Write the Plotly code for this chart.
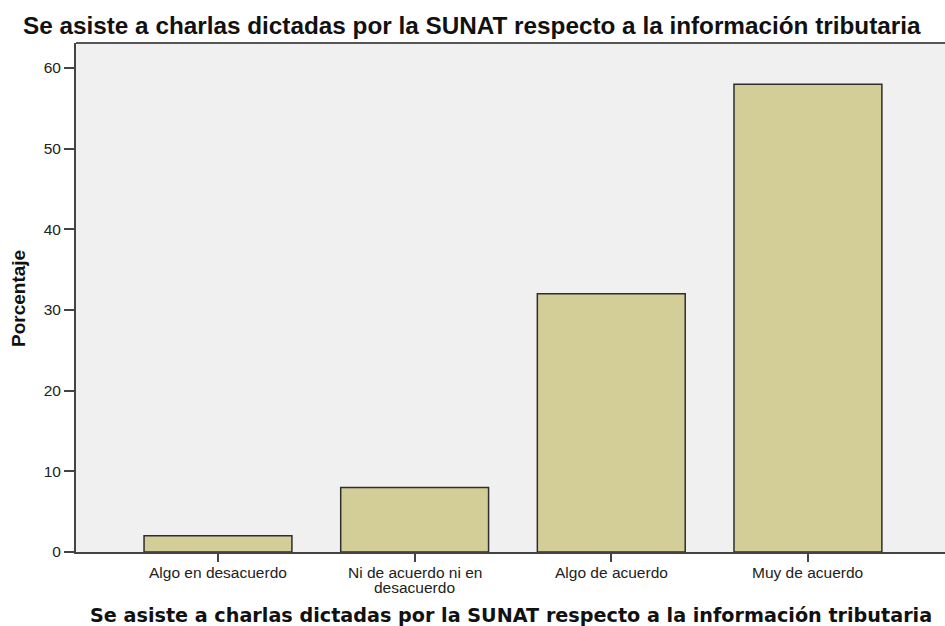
import plotly.graph_objects as go

categories = ["Algo en desacuerdo", "Ni de acuerdo ni en<br>desacuerdo", "Algo de acuerdo", "Muy de acuerdo"]
values = [2, 8, 32, 58]
y_ticks = [0, 10, 20, 30, 40, 50, 60]

title_text = "Se asiste a charlas dictadas por la SUNAT respecto a la información tributaria"
x_title = "Se asiste a charlas dictadas por la SUNAT respecto a la información tributaria"
y_title = "Porcentaje"

fig = go.Figure(go.Bar(
    x=list(range(len(categories))),
    y=values,
    width=0.752,
    marker=dict(color="#d3ce98", line=dict(color="#2e2e2e", width=1.5)),
    hoverinfo="skip",
))

# category labels as annotations (tighter line spacing than plotly tick labels)
label_annotations = []
for i, cat in enumerate(categories):
    for j, line in enumerate(cat.split("<br>")):
        label_annotations.append(dict(
            text=line, xref="x", yref="paper", x=i, y=0,
            xanchor="center", yanchor="middle", yshift=-(20 + 15 * j),
            showarrow=False,
            font=dict(family="Liberation Sans, Arial", size=15.5, color="#222"),
        ))

fig.update_layout(
    width=945, height=626,
    margin=dict(l=76, r=0, t=43, b=74),
    paper_bgcolor="white",
    plot_bgcolor="#f0f0f0",
    showlegend=False,
    xaxis=dict(
        range=[-0.722, 3.697], automargin=False,
        tickmode="array", tickvals=list(range(len(categories))), ticktext=[""] * len(categories),
        ticks="outside", ticklen=8, tickwidth=2, tickcolor="#444",
        showline=True, linecolor="#444", linewidth=2,
        showgrid=False, zeroline=False,
    ),
    yaxis=dict(
        range=[0, 63.1], automargin=False,
        tickmode="array", tickvals=y_ticks,
        ticks="outside", ticklen=10, tickwidth=2, tickcolor="#444",
        showline=True, linecolor="#444", linewidth=2,
        showgrid=False, zeroline=False,
        tickfont=dict(family="Liberation Sans, Arial", size=15.5, color="#222"),
    ),
    shapes=[dict(type="line", xref="paper", yref="paper", x0=0, x1=1, y0=1, y1=1,
                 line=dict(color="#555", width=2))],
    annotations=label_annotations + [
        dict(text="<b>" + title_text + "</b>", xref="paper", yref="paper",
             x=(472 - 76) / 869, y=1 + (43 - 26) / 509, xanchor="center", yanchor="middle",
             showarrow=False,
             font=dict(family="Liberation Sans, Arial", size=24.3, color="#111")),
        dict(text="<b>" + x_title + "</b>", xref="paper", yref="paper",
             x=(511 - 76) / 869, y=-(615 - 552) / 509, xanchor="center", yanchor="middle",
             showarrow=False,
             font=dict(family="DejaVu Sans, Verdana", size=19.2, color="#111")),
        dict(text="<b>" + y_title + "</b>", xref="paper", yref="paper",
             x=-(76 - 18) / 869, y=(552 - 299) / 509, xanchor="center", yanchor="middle",
             textangle=-90, showarrow=False,
             font=dict(family="Liberation Sans, Arial", size=19, color="#111")),
    ],
)

fig.write_html("out.html", config={"displayModeBar": False},
               post_script="document.body.style.margin='0px';document.body.style.padding='0px';")
